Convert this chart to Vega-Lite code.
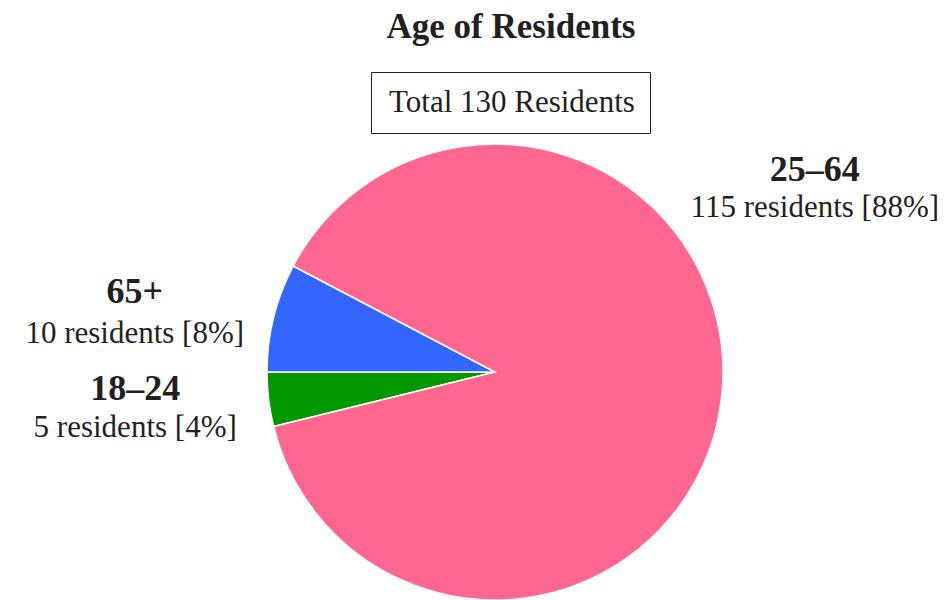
{
  "$schema": "https://vega.github.io/schema/vega-lite/v6.json",
  "width": 456,
  "height": 456,
  "autosize": {"type": "none"},
  "padding": {"left": 267, "top": 144, "right": 224, "bottom": 0},
  "background": "white",
  "config": {"view": {"stroke": null}},
  "title": {
    "text": "Age of Residents",
    "font": "Liberation Serif",
    "fontSize": 35,
    "fontWeight": "bold",
    "color": "#231f20",
    "baseline": "alphabetic",
    "offset": -1,
    "dx": 16
  },
  "data": {
    "values": [
      {"age": "18–24", "residents": 5, "order": 1, "detail": "5 residents [4%]"},
      {"age": "65+", "residents": 10, "order": 2, "detail": "10 residents [8%]"},
      {"age": "25–64", "residents": 115, "order": 3, "detail": "115 residents [88%]"}
    ]
  },
  "layer": [
    {
      "mark": {"type": "arc", "stroke": "white", "strokeWidth": 1.5},
      "encoding": {
        "theta": {"field": "residents", "type": "quantitative", "stack": true, "scale": {"range": [4.4708, 10.754]}},
        "order": {"field": "order"},
        "color": {
          "field": "age",
          "type": "nominal",
          "scale": {"domain": ["18–24", "65+", "25–64"], "range": ["#009a00", "#3366ff", "#ff6690"]},
          "legend": null
        }
      }
    },
    {
      "mark": {"type": "text", "radius": 300, "font": "Liberation Serif", "fontWeight": "bold", "color": "#231f20", "align": "center", "baseline": "alphabetic", "dx": 22, "dy": -227},
      "encoding": {
        "theta": {"field": "residents", "type": "quantitative", "stack": true},
        "order": {"field": "order"},
        "size": {"condition": {"test": "datum.age === '25–64'", "value": 36}, "value": 0},
        "text": {"condition": {"test": "datum.age === '25–64'", "field": "age"}, "value": ""}
      }
    },
    {
      "mark": {"type": "text", "radius": 300, "font": "Liberation Serif", "color": "#231f20", "align": "center", "baseline": "alphabetic", "dx": 22, "dy": -191},
      "encoding": {
        "theta": {"field": "residents", "type": "quantitative", "stack": true},
        "order": {"field": "order"},
        "size": {"condition": {"test": "datum.age === '25–64'", "value": 31}, "value": 0},
        "text": {"condition": {"test": "datum.age === '25–64'", "field": "detail"}, "value": ""}
      }
    },
    {
      "mark": {"type": "text", "radius": 300, "font": "Liberation Serif", "fontWeight": "bold", "color": "#231f20", "align": "center", "baseline": "alphabetic", "dx": -69, "dy": 3},
      "encoding": {
        "theta": {"field": "residents", "type": "quantitative", "stack": true},
        "order": {"field": "order"},
        "size": {"condition": {"test": "datum.age === '65+'", "value": 36}, "value": 0},
        "text": {"condition": {"test": "datum.age === '65+'", "field": "age"}, "value": ""}
      }
    },
    {
      "mark": {"type": "text", "radius": 300, "font": "Liberation Serif", "color": "#231f20", "align": "center", "baseline": "alphabetic", "dx": -69, "dy": 43},
      "encoding": {
        "theta": {"field": "residents", "type": "quantitative", "stack": true},
        "order": {"field": "order"},
        "size": {"condition": {"test": "datum.age === '65+'", "value": 31}, "value": 0},
        "text": {"condition": {"test": "datum.age === '65+'", "field": "detail"}, "value": ""}
      }
    },
    {
      "mark": {"type": "text", "radius": 300, "font": "Liberation Serif", "fontWeight": "bold", "color": "#231f20", "align": "center", "baseline": "alphabetic", "dx": -62, "dy": -8},
      "encoding": {
        "theta": {"field": "residents", "type": "quantitative", "stack": true},
        "order": {"field": "order"},
        "size": {"condition": {"test": "datum.age === '18–24'", "value": 36}, "value": 0},
        "text": {"condition": {"test": "datum.age === '18–24'", "field": "age"}, "value": ""}
      }
    },
    {
      "mark": {"type": "text", "radius": 300, "font": "Liberation Serif", "color": "#231f20", "align": "center", "baseline": "alphabetic", "dx": -62, "dy": 29},
      "encoding": {
        "theta": {"field": "residents", "type": "quantitative", "stack": true},
        "order": {"field": "order"},
        "size": {"condition": {"test": "datum.age === '18–24'", "value": 31}, "value": 0},
        "text": {"condition": {"test": "datum.age === '18–24'", "field": "detail"}, "value": ""}
      }
    },
    {
      "data": {"values": [{"note": "Total 130 Residents"}]},
      "mark": {"type": "point", "opacity": 0},
      "encoding": {
        "shape": {
          "field": "note",
          "type": "nominal",
          "legend": {
            "title": null,
            "orient": "none",
            "legendX": 104,
            "legendY": -72,
            "padding": 15,
            "strokeColor": "#231f20",
            "symbolSize": 0,
            "symbolOpacity": 0,
            "symbolStrokeWidth": 0,
            "labelOffset": -28,
            "labelFont": "Liberation Serif",
            "labelFontSize": 31,
            "labelColor": "#231f20",
            "labelLimit": 0,
            "encode": {"legend": {"update": {"strokeWidth": {"value": 2}}}}
          }
        }
      }
    }
  ]
}
